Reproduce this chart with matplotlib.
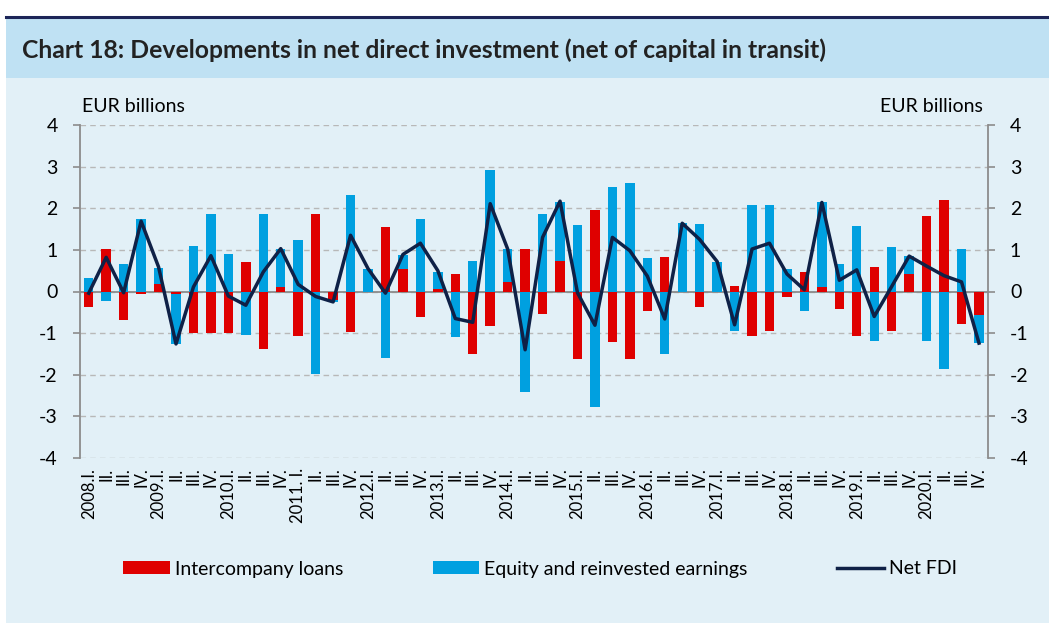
import matplotlib.pyplot as plt
import numpy as np
from matplotlib.lines import Line2D
from matplotlib.patches import Patch, Rectangle

plt.rcParams["font.family"] = ["Lato", "DejaVu Sans"]
plt.rcParams["axes.unicode_minus"] = False

YEARS = list(range(2008, 2021))
QUARTER_TAGS = ["I.", "II.", "III.", "IV."]

# intercompany loans, EUR bn
loans = [
    -0.37, 1.03, -0.69, -0.05,
    0.19, -0.07, -0.99, -0.99,
    -0.99, 0.71, -1.39, 0.11,
    -1.07, 1.86, -0.20, -0.97,
    0.00, 1.54, 0.54, -0.61,
    0.05, 0.43, -1.49, -0.82,
    0.23, 1.01, -0.55, 0.74,
    -1.62, 1.96, -1.22, -1.63,
    -0.46, 0.83, 0.00, -0.37,
    0.00, 0.14, -1.06, -0.94,
    -0.13, 0.48, 0.10, -0.41,
    -1.06, 0.58, -0.94, 0.42,
    1.81, 2.21, -0.79, -0.57,
]

# equity and reinvested earnings, EUR bn
equity = [
    0.33, -0.23, 0.66, 1.75,
    0.37, -1.18, 1.09, 1.85,
    0.90, -1.05, 1.86, 0.90,
    1.23, -1.97, -0.05, 2.31,
    0.55, -1.59, 0.33, 1.75,
    0.43, -1.09, 0.74, 2.91,
    0.78, -2.42, 1.85, 1.42,
    1.59, -2.77, 2.50, 2.60,
    0.81, -1.49, 1.64, 1.61,
    0.72, -0.94, 2.07, 2.09,
    0.53, -0.46, 2.04, 0.67,
    1.57, -1.18, 1.06, 0.43,
    -1.19, -1.85, 1.01, -0.66,
]

# net FDI
net_fdi = [
    -0.04, 0.82, -0.03, 1.69,
    0.59, -1.26, 0.11, 0.86,
    -0.11, -0.33, 0.47, 1.03,
    0.17, -0.12, -0.25, 1.35,
    0.55, -0.04, 0.89, 1.16,
    0.50, -0.65, -0.74, 2.11,
    1.02, -1.40, 1.30, 2.17,
    -0.03, -0.81, 1.30, 0.98,
    0.37, -0.66, 1.64, 1.25,
    0.72, -0.80, 1.02, 1.16,
    0.42, 0.04, 2.14, 0.27,
    0.52, -0.60, 0.12, 0.85,
    0.61, 0.38, 0.23, -1.24,
]

RED = "#df0000"
BLUE = "#00a0e0"
NAVY = "#0f2147"
BAND = "#bfe1f3"
PANEL = "#e2f0f7"
GRID = "#b8b8b8"
AXIS = "#8c8c8c"


def quarter_labels() -> list[str]:
    labels = []
    for year in YEARS:
        for i, tag in enumerate(QUARTER_TAGS):
            if i == 0:
                labels.append(f"{year}. I." if year == 2011 else f"{year}.I.")
            else:
                labels.append(tag)
    return labels


def stack_bases(a: np.ndarray, b: np.ndarray) -> np.ndarray:
    # excel-style stacking: positives pile up, negatives pile down
    return np.where((a >= 0) == (b >= 0), a, 0.0)


def main() -> None:
    fig = plt.figure(figsize=(10.49, 6.23), dpi=100)
    fig.patch.set_facecolor("white")

    # background panels
    fig.add_artist(Rectangle((6 / 1049, 0), 1 - 6 / 1049, 545 / 623, transform=fig.transFigure,
                             facecolor=PANEL, edgecolor="none", zorder=0))
    fig.add_artist(Rectangle((6 / 1049, 545 / 623), 1 - 6 / 1049, 60 / 623, transform=fig.transFigure,
                             facecolor=BAND, edgecolor="none", zorder=0))
    fig.add_artist(Line2D([6 / 1049, 1], [606 / 623, 606 / 623], transform=fig.transFigure,
                          color="#1c2558", lw=2.2, zorder=1))
    fig.text(22 / 1049, 573 / 623, "Chart 18: Developments in net direct investment (net of capital in transit)",
             fontsize=17.8, fontweight="bold", color="#222222", va="center", ha="left")

    ax = fig.add_axes([80 / 1049, 165 / 623, 907.7 / 1049, 333 / 623])
    ax.set_facecolor("none")

    x = np.arange(len(loans))
    loans_arr = np.array(loans)
    equity_arr = np.array(equity)
    width = 0.54

    ax.bar(x, loans_arr, width=width, color=RED, zorder=3)
    ax.bar(x, equity_arr, width=width, bottom=stack_bases(loans_arr, equity_arr), color=BLUE, zorder=3)
    ax.plot(x, net_fdi, color=NAVY, lw=2.5, zorder=4)

    ax.set_xlim(-0.5, len(loans) - 0.5)
    ax.set_ylim(-4, 4)
    ax.set_yticks(range(-4, 5))
    ax.yaxis.grid(True, color=GRID, linestyle=(0, (4, 3)), lw=1.0, zorder=0)
    ax.axhline(0, color=AXIS, lw=1.3, zorder=2)

    for side in ("top", "bottom"):
        ax.spines[side].set_visible(False)
    for side in ("left", "right"):
        ax.spines[side].set_color(AXIS)
        ax.spines[side].set_linewidth(1.3)

    ax.tick_params(axis="y", which="both", left=True, right=True, labelleft=True, labelright=True,
                   length=5, width=1.2, color=AXIS, labelsize=14, pad=11)
    ax.set_xticks(x)
    ax.set_xticklabels(quarter_labels(), rotation=90, fontsize=12, va="top", ha="center")
    ax.tick_params(axis="x", length=0, pad=7)

    fig.text(82 / 1049, 511 / 623, "EUR billions", fontsize=14, ha="left", va="baseline")
    fig.text(983 / 1049, 511 / 623, "EUR billions", fontsize=14, ha="right", va="baseline")

    handles = [
        Patch(facecolor=RED, edgecolor="none", label="Intercompany loans"),
        Patch(facecolor=BLUE, edgecolor="none", label="Equity and reinvested earnings"),
        Line2D([], [], color=NAVY, lw=2.5, label="Net FDI"),
    ]
    fig.legend(handles=handles, loc="center", bbox_to_anchor=(540 / 1049, 54 / 623), ncol=3, frameon=False,
               fontsize=14, handlelength=2.4, handleheight=0.65, handletextpad=0.26, columnspacing=4.6)

    fig.savefig("out.png", dpi=100, facecolor=fig.get_facecolor())
    plt.close(fig)


if __name__ == "__main__":
    main()
